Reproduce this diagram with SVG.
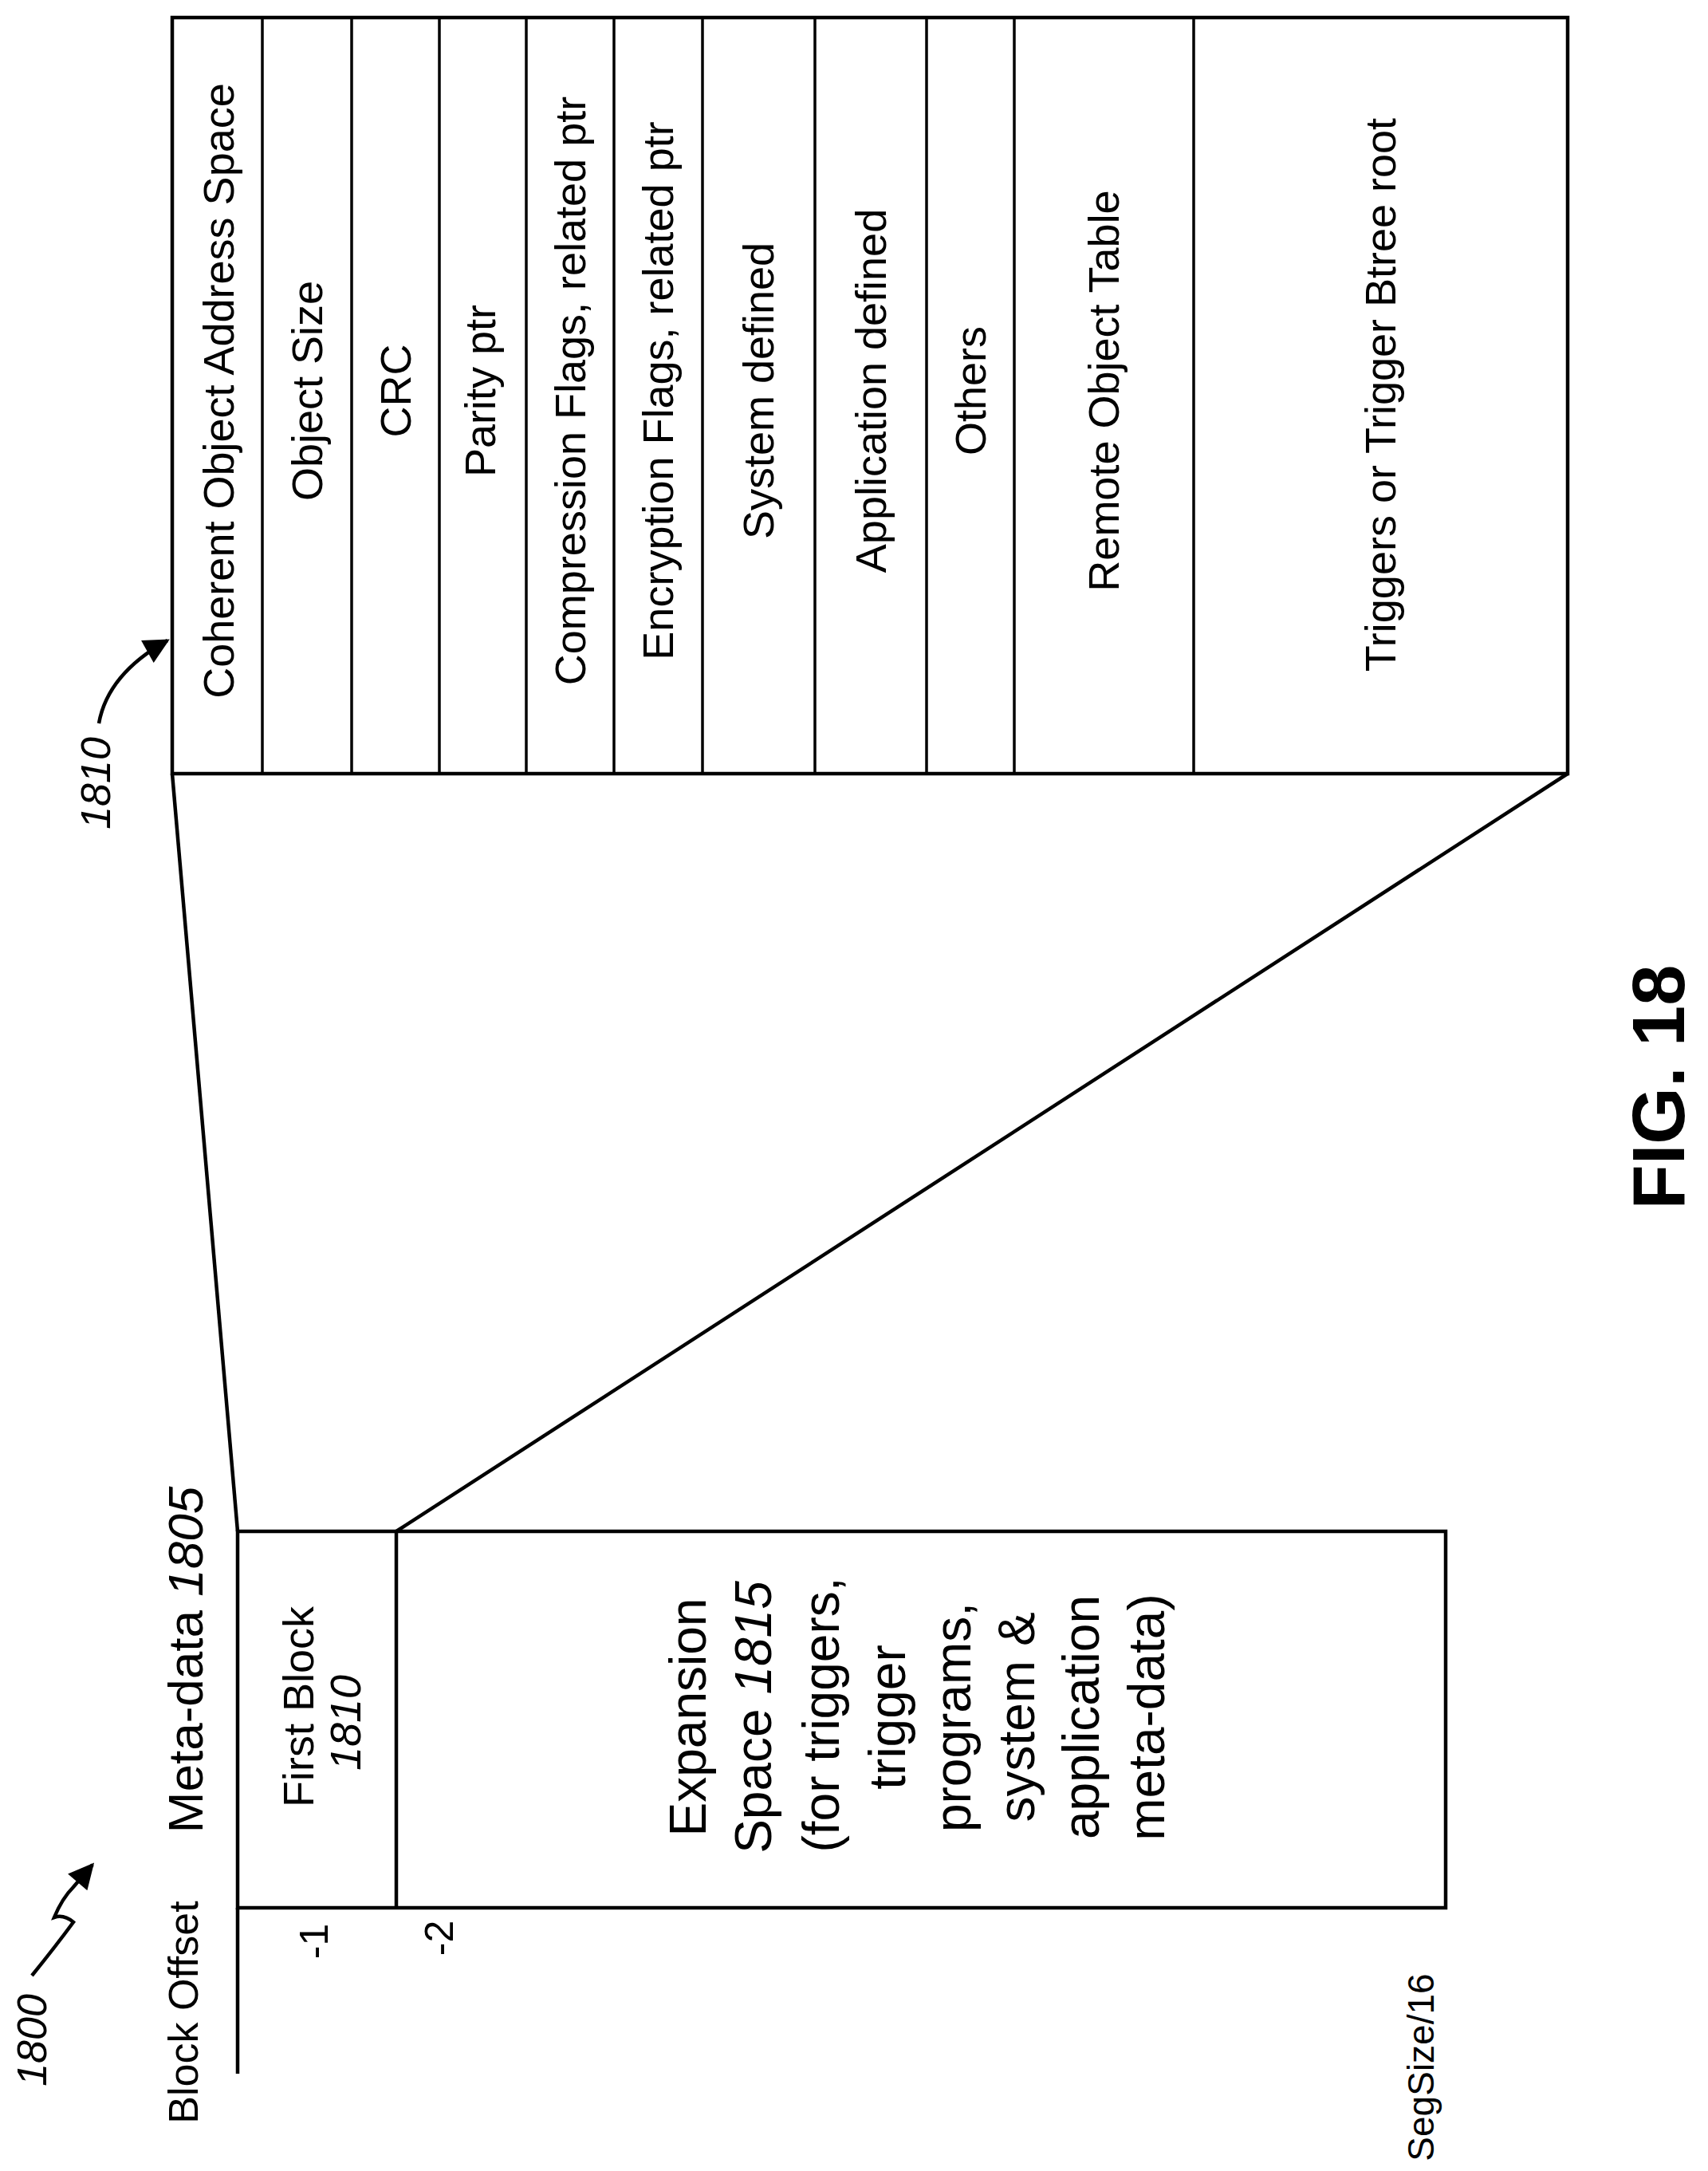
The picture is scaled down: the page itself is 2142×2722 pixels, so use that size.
<svg xmlns="http://www.w3.org/2000/svg" width="2142" height="2722" viewBox="0 0 2142 2722">
<style>
text{font-family:"Liberation Sans",Arial,sans-serif;fill:#000;text-anchor:middle;dominant-baseline:central}
.c{font-size:54px}
.ln{stroke:#000;stroke-width:4.5;fill:none}
.th{stroke:#000;stroke-width:3.5;fill:none}
.it{font-style:italic}
</style>
<defs>
<marker id="ahb" viewBox="0 0 10 10" refX="9" refY="5" markerWidth="40" markerHeight="32" markerUnits="userSpaceOnUse" orient="auto"><path d="M0,0 L10,5 L0,10 z"/></marker>
</defs>
<rect width="2142" height="2722" fill="#fff"/>
<g id="first-block-detail">
<rect class="ln" x="216" y="22" width="1750" height="948"/>
<path class="th" d="M329,22V970M441,22V970M551,22V970M660,22V970M770,22V970M881,22V970M1022,22V970M1162,22V970M1272,22V970M1497,22V970"/>
<text class="c" transform="translate(274,490) rotate(-90)">Coherent Object Address Space</text>
<text class="c" transform="translate(385,490) rotate(-90)">Object Size</text>
<text class="c" transform="translate(496,490) rotate(-90)">CRC</text>
<text class="c" transform="translate(602,490) rotate(-90)">Parity ptr</text>
<text class="c" transform="translate(715,490) rotate(-90)">Compression Flags, related ptr</text>
<text class="c" transform="translate(825,490) rotate(-90)">Encryption Flags, related ptr</text>
<text class="c" transform="translate(951,490) rotate(-90)">System defined</text>
<text class="c" transform="translate(1092,490) rotate(-90)">Application defined</text>
<text class="c" transform="translate(1217,490) rotate(-90)">Others</text>
<text class="c" transform="translate(1384,490) rotate(-90)">Remote Object Table</text>
<text class="c" transform="translate(1731,495) rotate(-90)">Triggers or Trigger Btree root</text>
</g>
<g id="label-1810">
<text class="it" style="font-size:52px" transform="translate(120,982) rotate(-90)">1810</text>
</g>
<g id="label-1800">
<text class="it" style="font-size:52px" transform="translate(40,2558) rotate(-90)">1800</text>
</g>
<g id="metadata">
<rect class="ln" x="298" y="1920" width="1515" height="472"/>
<line class="ln" x1="497" y1="1920" x2="497" y2="2392"/>
<line class="ln" x1="298" y1="2392" x2="298" y2="2600"/>
<text style="font-size:62px" transform="translate(232,2081) rotate(-90)">Meta-data <tspan class="it">1805</tspan></text>
<text style="font-size:52px" transform="translate(230,2523) rotate(-90)">Block Offset</text>
<text style="font-size:54px" transform="translate(374,2140) rotate(-90)">First Block</text>
<text class="it" style="font-size:54px" transform="translate(433,2160) rotate(-90)">1810</text>
<text style="font-size:64px" transform="translate(863,2153) rotate(-90)">Expansion</text>
<text style="font-size:64px" transform="translate(945,2153) rotate(-90)">Space <tspan class="it">1815</tspan></text>
<text style="font-size:64px" transform="translate(1030,2150) rotate(-90)">(for triggers,</text>
<text style="font-size:64px" transform="translate(1113,2153) rotate(-90)">trigger</text>
<text style="font-size:64px" transform="translate(1195,2153) rotate(-90)">programs,</text>
<text style="font-size:64px" transform="translate(1275,2153) rotate(-90)">system &amp;</text>
<text style="font-size:64px" transform="translate(1356,2153) rotate(-90)">application</text>
<text style="font-size:64px" transform="translate(1438,2153) rotate(-90)">meta-data)</text>
<text style="font-size:50px" transform="translate(394,2434) rotate(-90)">-1</text>
<text style="font-size:50px" transform="translate(551,2430) rotate(-90)">-2</text>
<text style="font-size:46px" transform="translate(1782,2592) rotate(-90)">SegSize/16</text>
</g>
<g id="fig-label">
<text style="font-size:92px;font-weight:bold" transform="translate(2080,1363) rotate(-90)">FIG. 18</text>
</g>
<g id="connectors">
<path class="ln" d="M216,970 Q262,1500 298,1920"/>
<line class="ln" x1="1966" y1="970" x2="497" y2="1920"/>
<path class="ln" d="M124,907 Q135,845 210,803" marker-end="url(#ahb)"/>
<path class="ln" d="M40,2477 Q70,2440 92,2410 Q80,2400 68,2404 Q78,2380 92,2366 L116,2338" marker-end="url(#ahb)"/>
</g>
</svg>
